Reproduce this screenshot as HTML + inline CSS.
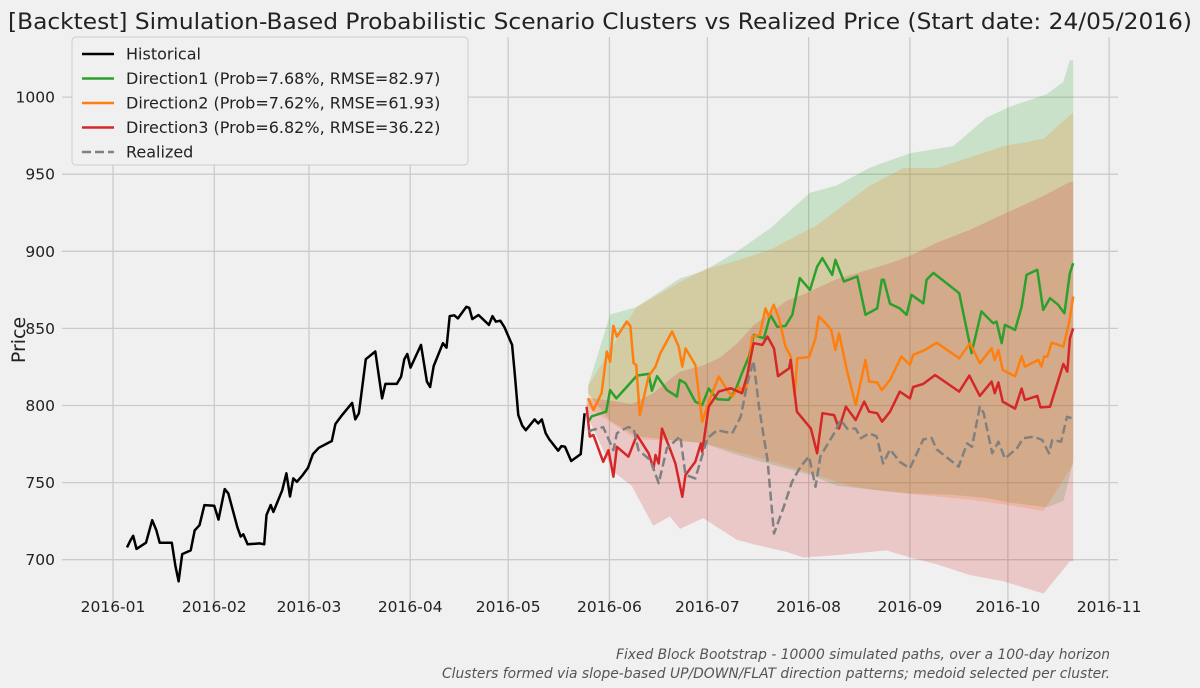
<!DOCTYPE html>
<html><head><meta charset="utf-8"><style>
html,body{margin:0;padding:0;background:#f0f0f0;}
svg{display:block;font-family:"DejaVu Sans","Liberation Sans",sans-serif;}
</style></head><body>
<svg id="chart" width="1200" height="688" viewBox="0 0 1200 688" xmlns="http://www.w3.org/2000/svg">
<rect width="1200" height="688" fill="#f0f0f0"/>
<text x="600" y="29" text-anchor="middle" font-size="22" fill="#222" textLength="1184" lengthAdjust="spacingAndGlyphs">[Backtest] Simulation-Based Probabilistic Scenario Clusters vs Realized Price (Start date: 24/05/2016)</text>
<g id="grid"></g><g id="bands"></g><g id="lines"></g><g id="axes"></g>
<text transform="translate(25,340) rotate(-90)" text-anchor="middle" font-size="19" fill="#222">Price</text>
<g>
<rect x="72" y="37" width="396" height="128" rx="4" fill="#f0f0f0" stroke="#cccccc"/>
<g id="legend"></g>
</g>
<text x="1110" y="659" text-anchor="end" font-size="14" font-style="italic" fill="#555" textLength="494" lengthAdjust="spacingAndGlyphs">Fixed Block Bootstrap - 10000 simulated paths, over a 100-day horizon</text>
<text x="1110" y="678" text-anchor="end" font-size="14" font-style="italic" fill="#555" textLength="668" lengthAdjust="spacingAndGlyphs">Clusters formed via slope-based UP/DOWN/FLAT direction patterns; medoid selected per cluster.</text>
</svg>
<script>
// day offsets from 2016-01-01
const tickLabels=["2016-01","2016-02","2016-03","2016-04","2016-05","2016-06","2016-07","2016-08","2016-09","2016-10","2016-11"];
const tickDays=[0,31,60,91,121,152,182,213,244,274,305];
const yTicks=[700,750,800,850,900,950,1000];
const histDays=[4.3,5.4,6.2,7.2,10.1,12,13.3,14.3,18,19.1,20.1,21.2,23.8,25,26.5,28,31,32.3,34.2,35.3,38.1,39.1,39.9,41.2,44.9,46.3,47,48.3,49.1,51.8,53.1,54.2,55.2,56.3,58.1,59.7,61.2,63,67,68.1,70.2,73.2,74.2,75.3,77.4,80.3,82.4,83.4,86.9,88.2,89.2,90.1,91.1,94.3,96.1,97.1,98.2,101,102.1,103.1,104.5,105.6,108.2,109.1,110,111.9,115.1,116.2,117.2,118.6,119.8,122.2,123,124.1,125.3,126.4,129.1,130.2,131.3,132.5,133.6,136.3,137.3,138.4,140.3,143.2,144.4];
const histVals=[708,712.7,715.5,707,711,725.6,719,711,711,696,686,703.6,706,719,722.4,735.4,735,726,745.8,743,721,715,716.5,710,710.6,710,729,735.5,731,745,756,741,752.7,750.5,755,759.6,768.5,772.6,777,788,794,801.7,791,795,830,835,804.6,814,814,818.7,830,833.4,824.6,839.3,815.5,812,825.6,840.4,837.5,858,858.5,856.5,864,863.3,856,858.7,852.3,858,854.4,855,851,839.3,821,793.8,787,784,791,788.4,791,782,778,770.7,773.7,773.3,764,768.5,795];
const d1Days=[145.5,146.6,151,152.2,154.1,157.3,160.4,164,165,166.6,169.6,172.7,173.5,175.3,178.3,180.4,182.4,185,188.5,190.6,192.6,194.7,196.2,199.3,201.3,203.4,205.9,208,210.3,213.4,215.6,217.2,220.2,221.2,223.8,227.9,230.4,234,235.4,236,237.9,240.9,243,244.5,248.1,249.1,251.2,259.1,262.9,265.9,269.5,270.5,272.1,273.1,276.2,278.2,279.7,283,284.8,286.9,289.4,291.3,293,294];
const d1Vals=[789.5,793,796,810,804.6,812,819.4,820.5,809.6,819,810,805.8,816.6,814.4,802.5,800.3,811,804,803.6,810,821,831.7,845.8,843.6,858.8,851,851.6,858.8,882.6,875,890,895.6,884.7,894.5,880.4,883.7,858.8,863,881.5,881.5,866,863,858.8,871.8,866.3,881.5,886,872.8,834,861,853.4,854.4,840.4,852.3,849,864,884.7,888,862,869.6,865.3,859.8,885.8,892.3];
const d2Days=[145.5,147.1,149.6,151.2,152.2,153.2,154.3,157.3,158.4,159.4,160.2,161.3,164,166.1,167.6,171.2,173.2,174.3,175.3,178.3,180.4,183,185.5,188.1,189.6,191.6,193.7,195.7,198,199.8,200.8,202.3,203.9,205.9,207.5,208.7,209.5,213.1,215.1,216.1,218.2,219.9,221.2,222.3,224.8,227.4,230.4,231.5,234,235.4,237.9,241.4,244,245,248.6,252.2,259.1,262.4,265.4,269,270,271.1,272.4,276.2,278.2,279.2,283.3,284.3,285.1,286.1,287.4,291,292.8,294];
const d2Vals=[804.6,797,808,835,828.4,851.6,844.6,854.4,851.6,827.4,826.3,793.8,819,825.2,834,848,838.2,825.2,837,826.3,789.5,805.8,818.8,810,805.8,812,808,844.7,845.8,863,857.7,865.3,856.6,838.2,831.7,805.8,830.6,831.3,843.6,857.7,853.4,849,836,846.9,822,800.3,829.6,815.5,815,810,816.6,831.7,826.3,832.8,836,840.7,830.6,840.4,827.4,837,829.6,836,823,819,832,825.2,829.6,825.2,831.7,831.7,840.8,838.2,854.4,870.7];
const d3Days=[145,146,147.1,150.1,151.7,153.2,154.3,157.8,160.4,164,165.5,166.1,167.1,168.1,170.7,172.2,174.3,175.3,178.3,180,180.4,182.4,185.5,189.1,192.6,194.2,196.1,198.8,200.4,202.4,203.6,207,207.5,209.4,213.7,215.6,217.2,220.8,222.3,224.4,227.4,230,231.5,234,235.5,237.9,240.9,244,245,248.1,251.7,259.1,262.2,265.4,269,270,271.1,272.4,276.2,278.2,279.2,283,284,286.9,291,292.2,293,294];
const d3Vals=[799.2,779.8,780.9,763.5,771,753.8,773.2,766.8,780.9,769,759.2,767.9,762.4,785,771,762.4,740.8,754.9,763.5,775.4,770,799.2,809,811.2,808,819.8,840.4,839.3,844.7,837,819,824.1,829.6,796,785,769,795,793.8,785,799.2,790.6,802.5,796,795,789.5,796,809,804.6,812,814,819.8,809,819.4,806.2,815.5,808,815,802.5,798,811,803.6,806.2,798.8,799.2,827,822,843.6,850];
const realDays=[145.5,146.6,150.1,153.2,154.3,155.8,157.8,159.4,160.9,164.5,167.1,169.6,173.7,175.3,178.3,182,185,189.6,192.2,194.2,196.1,197.8,200.4,202.4,205.4,207.9,210.5,213.1,215.1,216.6,220.8,222.8,224.8,227.4,229,231.5,233.8,235.8,237.9,240.9,244,248.1,250.6,252.2,258.9,261.5,263,265.4,266.6,269.2,271.1,273.1,276.8,278.7,281.9,284.5,286.6,287.6,290.3,292.1,294];
const realVals=[783,784,786,771,782,784,786,785,771,764.6,749.6,772.3,780,755,752.7,778.7,784,782,792.7,814.4,829,799.2,764.6,717,734.3,750.5,760.3,767,747.3,767,782,790.6,785,785,778.7,782,780,762.4,771.5,763.5,759.2,778,779,771.5,760.3,775.4,773.2,799.2,795,769,776.5,765.6,772.3,778.7,779.8,777.6,769,777.6,776.5,792.7,791.6];
const band1Days=[145.5,152.2,160.3,173.6,180.7,191,201.2,213.4,221.6,231.8,244,257.3,267.5,274.6,285.9,291,293,294];
const band1Upper=[812.8,859,863.8,882.4,887,899.8,914.8,938,942.7,954.3,963.6,968.2,986.8,993.7,1001.9,1010,1024,1024];
const band1Lower=[808,790,780,777,775.6,768,762,755,748,745.5,743,742,740,737,734,738,755,764];
const band2Days=[145.5,160.3,173.6,180.7,191,201.2,215.6,225.6,231.8,242,252.2,262.4,272.6,284.9,294];
const band2Upper=[812.8,863.8,880,888,894,901,917,933,942.7,954,954,961,968,973,990];
const band2Lower=[798.8,778,777,775.6,770,764,754.8,748,745.5,743,741,739,736,731.6,762];
const band3Days=[145,153.2,158.8,165.4,170.5,173.6,180.7,185.8,191,196.1,206.3,211.4,221.6,236.9,244,252.2,262.4,272.6,284.9,293,294];
const band3Upper=[805,803,801,808,817,822,826,831,840,852,868,872,882,891.6,897,905.6,914,924,936,945,945];
const band3Lower=[794,757,748,722,728,720,727,720,713,710,705,701.4,703,706,701.4,697,690,686,678,699,699];

const NS="http://www.w3.org/2000/svg";
const L=62,R=1118,T=37,B=602;
const xs=d=>113+d*3.266;
const ys=v=>405.5-(v-800)*1.542;
function mk(tag,attrs,parent){const e=document.createElementNS(NS,tag);for(const k in attrs)e.setAttribute(k,attrs[k]);document.getElementById(parent).appendChild(e);return e;}
// grid + ticks
yTicks.forEach(v=>{
  const g=mk('line',{x1:L,x2:R,y1:ys(v),y2:ys(v),stroke:'#cbcbcb','stroke-width':1.3},'grid');
  
  
  const t=mk('text',{x:55,y:ys(v)+5.5,'text-anchor':'end','font-size':15.5,fill:'#222'},'axes');
  t.textContent=v;
  
  
});
tickDays.forEach((d,i)=>{
  const g=mk('line',{x1:xs(d),x2:xs(d),y1:T,y2:B,stroke:'#cbcbcb','stroke-width':1.3},'grid');
  
  
  const t=mk('text',{x:xs(d),y:612,'text-anchor':'middle','font-size':15.5,fill:'#222'},'axes');
  t.textContent=tickLabels[i];
  
  
});
function band(days,up,lo,color,name){
  let p='M'+days.map((d,i)=>xs(d).toFixed(1)+','+ys(up[i]).toFixed(1)).join('L');
  for(let i=days.length-1;i>=0;i--)p+='L'+xs(days[i]).toFixed(1)+','+ys(lo[i]).toFixed(1);
  const e=mk('path',{d:p+'Z',fill:color,'fill-opacity':0.2,stroke:'none'},'bands');
  
  
}
band(band1Days,band1Upper,band1Lower,'#2ca02c','direction1-band');
band(band2Days,band2Upper,band2Lower,'#ff7f0e','direction2-band');
band(band3Days,band3Upper,band3Lower,'#d62728','direction3-band');
function line(days,vals,color,name,dash){
  const pts=days.map((d,i)=>xs(d).toFixed(1)+','+ys(vals[i]).toFixed(1)).join(' ');
  const a={points:pts,fill:'none',stroke:color,'stroke-width':2.5,'stroke-linejoin':'round'};
  if(dash)a['stroke-dasharray']=dash;
  const e=mk('polyline',a,'lines');
  
  
}
line(histDays,histVals,'#000000','historical-line');
line(d1Days,d1Vals,'#2ca02c','direction1-line');
line(d2Days,d2Vals,'#ff7f0e','direction2-line');
line(d3Days,d3Vals,'#d62728','direction3-line');
line(realDays,realVals,'#808080','realized-line','9,4');
const legendLabels=["Historical","Direction1 (Prob=7.68%, RMSE=82.97)","Direction2 (Prob=7.62%, RMSE=61.93)","Direction3 (Prob=6.82%, RMSE=36.22)","Realized"];
const legendColors=['#000','#2ca02c','#ff7f0e','#d62728','#808080'];
legendLabels.forEach((s,i)=>{
  const y=54+i*24.5;
  const a={x1:82,x2:114,y1:y,y2:y,stroke:legendColors[i],'stroke-width':2.5};
  if(i==4)a['stroke-dasharray']='9,4';
  const l=mk('line',a,'legend');
  
  
  const t=mk('text',{x:126,y:y+5.5,'font-size':16,fill:'#222'},'legend');
  t.textContent=s;
  
  
});
</script>
</body></html>
